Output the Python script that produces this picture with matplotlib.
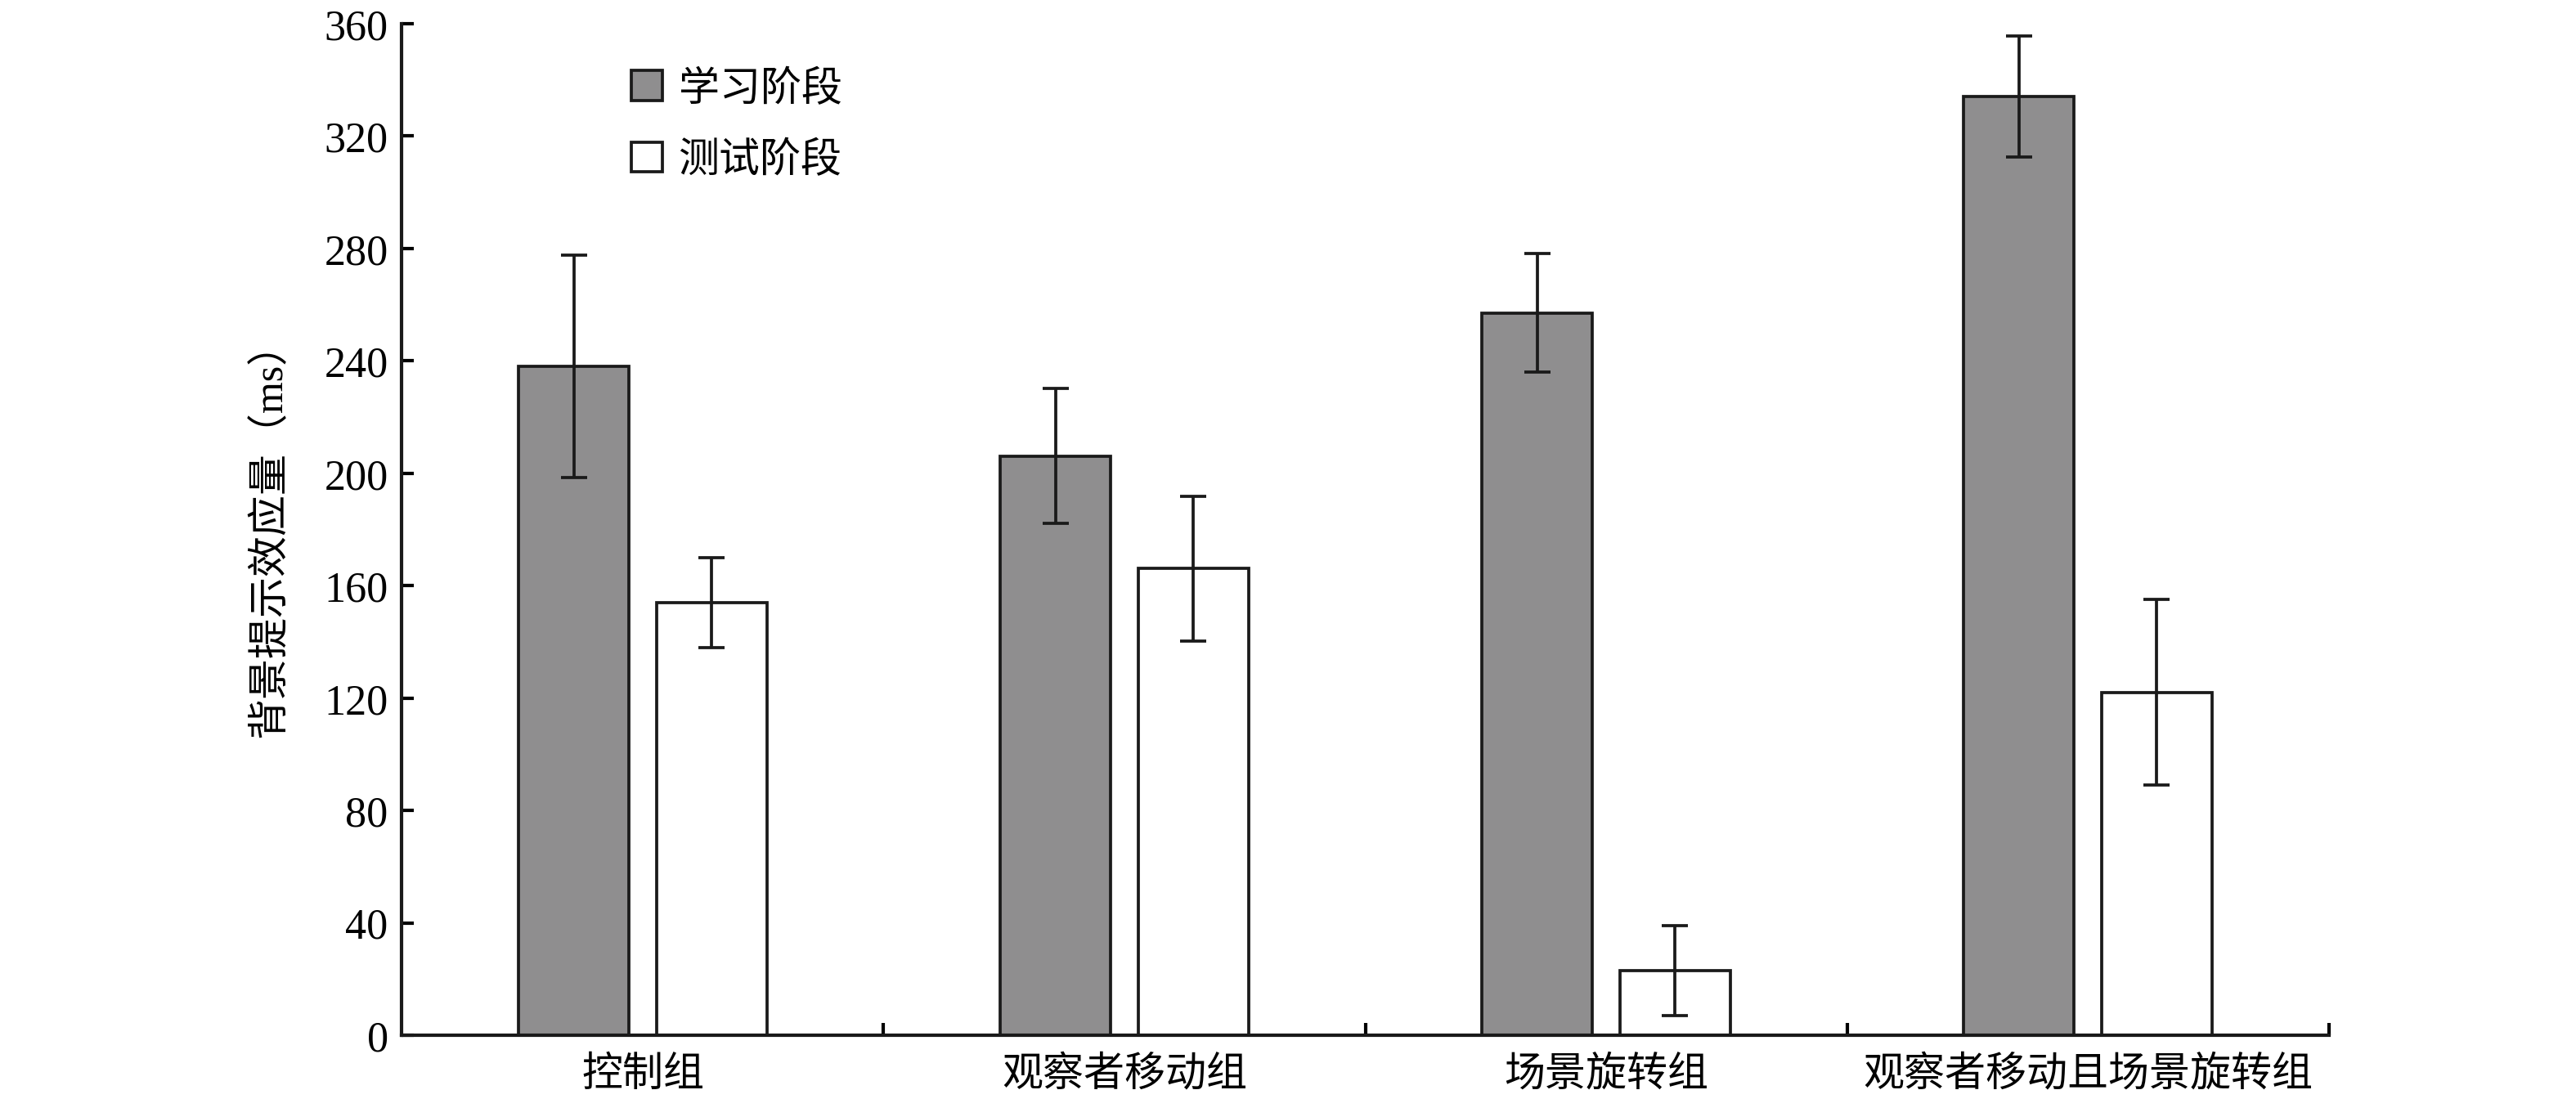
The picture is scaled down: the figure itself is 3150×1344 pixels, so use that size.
import numpy as np
import matplotlib
matplotlib.use("Agg")
import matplotlib.pyplot as plt

groups = ["控制组", "观察者移动组", "场景旋转组", "观察者移动且场景旋转组"]
series = ["学习阶段", "测试阶段"]

learn_mean = [238, 206, 257, 334]
learn_err = [39.5, 24, 21, 21.6]
test_mean = [154, 166, 23, 122]
test_err = [16, 25.7, 16, 33]

y_ticks = [0, 40, 80, 120, 160, 200, 240, 280, 320, 360]

plt.rcParams["font.family"] = ["Liberation Serif", "Noto Sans CJK SC"]
plt.rcParams["axes.linewidth"] = 1.0

fig = plt.figure(figsize=(10.5, 4.4833), dpi=300)
ax = fig.add_axes([0.156, 0.058, 0.748, 0.92])

x = np.arange(len(groups))
bar_width = 0.229
offset = 0.143
err_style = dict(ecolor="#1a1a1a", elinewidth=0.9, capsize=3.8, capthick=0.9)

ax.bar(x - offset, learn_mean, width=bar_width, color="#8f8e8f",
       edgecolor="#1a1a1a", linewidth=0.9, label=series[0],
       yerr=learn_err, error_kw=err_style, zorder=2)
ax.bar(x + offset, test_mean, width=bar_width, color="white",
       edgecolor="#1a1a1a", linewidth=0.9, label=series[1],
       yerr=test_err, error_kw=err_style, zorder=2)

ax.set_xlim(-0.5, len(groups) - 0.5)
ax.set_ylim(0, 360)
ax.set_yticks(y_ticks)
ax.set_yticklabels([str(v) for v in y_ticks], fontsize=12.5)

# category labels centred, ticks at group boundaries
ax.set_xticks(np.arange(0.5, len(groups), 1.0))
ax.set_xticklabels([])
ax.set_xticks(x, minor=True)
ax.set_xticklabels(groups, minor=True, fontsize=12)
ax.tick_params(axis="x", which="minor", length=0, pad=6)
ax.tick_params(axis="x", which="major", direction="in", length=3.6, width=1.0)
ax.tick_params(axis="y", direction="in", length=3.6, width=1.0, pad=4)

for side in ["top", "right"]:
    ax.spines[side].set_visible(False)
ax.spines["left"].set_color("#1a1a1a")
ax.spines["bottom"].set_color("#1a1a1a")

ax.set_ylabel("背景提示效应量（ms）", fontsize=12, labelpad=10)

ax.legend(loc="upper left", bbox_to_anchor=(0.10, 0.99), frameon=False,
          fontsize=12, handlelength=0.75, handleheight=0.75,
          handletextpad=0.4, labelspacing=0.8)

fig.savefig("out.png", dpi=300)
